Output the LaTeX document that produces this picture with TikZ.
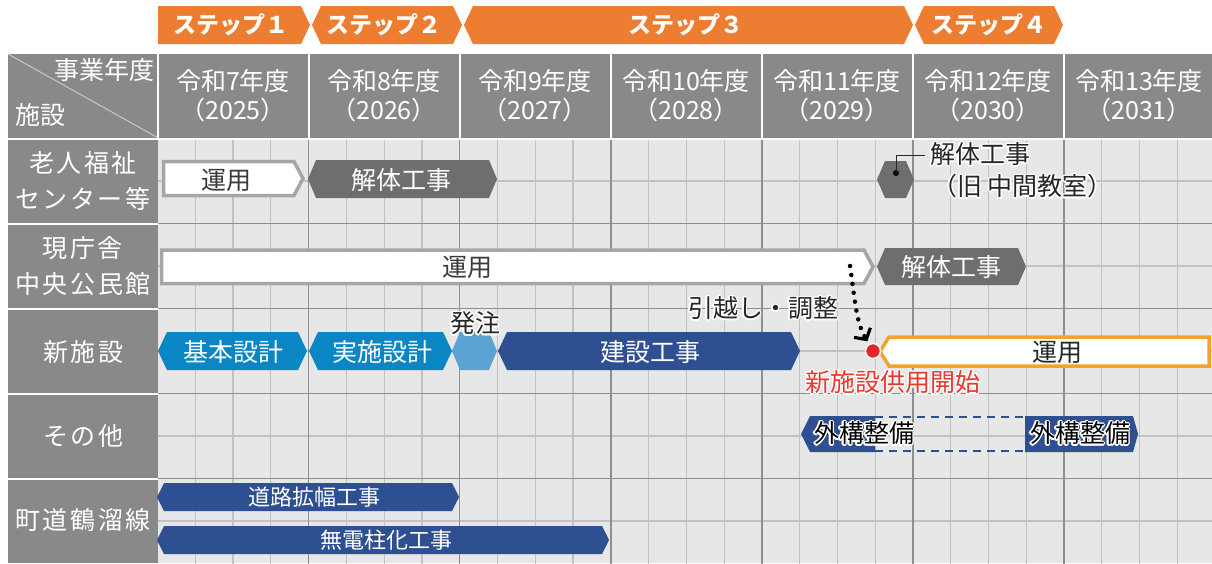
\documentclass[tikz,border=0pt]{standalone}
\usepackage{fontspec}
\setmainfont{Noto Sans CJK JP}
\usepackage{contour}
\contourlength{1.3pt}
\usetikzlibrary{arrows.meta}
\definecolor{steporange}{HTML}{ED7D31}
\definecolor{hdrgray}{HTML}{898989}
\definecolor{gridbg}{HTML}{E7E7E7}
\definecolor{gridlight}{HTML}{C2C2C2}
\definecolor{griddark}{HTML}{8F8F8F}
\definecolor{diagline}{HTML}{C8C8C8}
\definecolor{bardark}{HTML}{6E6E6E}
\definecolor{barborder}{HTML}{A6A6A6}
\definecolor{blueA}{HTML}{0A86C4}
\definecolor{blueL}{HTML}{5BA3D3}
\definecolor{blueD}{HTML}{2E5092}
\definecolor{opborder}{HTML}{F3A230}
\definecolor{redmark}{HTML}{E3262A}
\definecolor{redtext}{HTML}{E8392A}
\definecolor{txtdark}{HTML}{262626}
\definecolor{txtbar}{HTML}{3A3A3A}
% style, xL, xR, yTop, yBottom, tipLeft, tipRight
\newcommand{\barpath}[7]{%
  \path[#1] (#2,{(#4+#5)/2}) -- ({#2+#6},#4) -- ({#3-#7},#4) -- (#3,{(#4+#5)/2}) -- ({#3-#7},#5) -- ({#2+#6},#5) -- cycle;}
\tikzset{
  stepbox/.style={fill=steporange},
  steptxt/.style={text=white, font=\fontsize{23}{28}\selectfont\bfseries, inner sep=0},
  hdrtxt/.style={text=white, font=\fontsize{25}{29}\selectfont, align=center, inner sep=0},
  rowtxt/.style={text=white, font=\fontsize{25}{36}\selectfont\addfontfeatures{LetterSpace=10}, align=center, inner sep=0},
  darkbar/.style={fill=bardark},
  whitebar/.style={fill=white, draw=barborder, line width=3.5pt},
  orangebar/.style={fill=white, draw=opborder, line width=3.5pt},
  bluebar/.style={fill=blueA},
  lbluebar/.style={fill=blueL},
  dbluebar/.style={fill=blueD},
  bartxt/.style={font=\fontsize{25}{30}\selectfont, inner sep=0},
  smalltxt/.style={font=\fontsize{22}{26}\selectfont, inner sep=0, text=white},
  anntxt/.style={font=\fontsize{25}{30}\selectfont, inner sep=0, text=txtdark},
  thinline/.style={gridlight, line width=1.2pt},
  thickline/.style={griddark, line width=1.5pt}
}
\begin{document}
\begin{tikzpicture}[x=1pt,y=-1pt]
\useasboundingbox (0,0) rectangle (1212,563);
\fill[white] (0,0) rectangle (1212,563);

% ---- grid area ----
\fill[gridbg] (157.5,137.5) rectangle (1212,563);
\foreach \q in {1,...,27} {\draw[thinline] ({157.5+\q*37.775},137.5) -- ++(0,426);}
\foreach \yy in {181,266,351,436,521} {\draw[thinline] (157.5,\yy) -- (1212,\yy);}
\foreach \k in {1,...,6} {\draw[thickline] ({157.5+\k*151.1},137.5) -- ++(0,426);}
\foreach \yy in {223.5,308.5,393.5,478.5} {\draw[thickline] (157.5,\yy) -- (1212,\yy);}

% ---- header ----
\fill[hdrgray] (8,54) rectangle (1212,137.5);
\foreach \k in {0,...,6} {\draw[white, line width=2pt] ({157.5+\k*151.1},54) -- ({157.5+\k*151.1},137.5);}
\draw[diagline, line width=1pt] (8,54) -- (157.5,137.5);
\fill[hdrgray] (8,137.5) rectangle (157.5,563);
\draw[white, line width=2pt] (8,138.5) -- (1212,138.5);
\foreach \yy in {223.5,308.5,393.5,478.5} {\draw[white, line width=2pt] (8,\yy) -- (157.5,\yy);}

\node[hdrtxt, anchor=east] (hjigyo) at (155,70) {事業年度};
\node[hdrtxt, anchor=west] (hshisetsu) at (15,115) {施設};
\node[hdrtxt] (y2025) at (233,96) {令和7年度\\（2025）};
\node[hdrtxt] (y2026) at (384,96) {令和8年度\\（2026）};
\node[hdrtxt] (y2027) at (535,96) {令和9年度\\（2027）};
\node[hdrtxt] (y2028) at (686,96) {令和10年度\\（2028）};
\node[hdrtxt] (y2029) at (837,96) {令和11年度\\（2029）};
\node[hdrtxt] (y2030) at (988,96) {令和12年度\\（2030）};
\node[hdrtxt] (y2031) at (1139,96) {令和13年度\\（2031）};

\node[rowtxt] (r1) at (83,181) {老人福祉\\センター等};
\node[rowtxt] (r2) at (83,266) {現庁舎\\中央公民館};
\node[rowtxt] (r3) at (83,352) {新施設};
\node[rowtxt] (r4) at (83,436) {その他};
\node[rowtxt] (r5) at (83,520) {町道鶴溜線};

% ---- steps ----
\barpath{stepbox}{158}{310}{6}{44}{0}{9}
\barpath{stepbox}{312}{462}{6}{44}{9}{9}
\barpath{stepbox}{464}{913}{6}{44}{9}{9}
\barpath{stepbox}{915}{1063}{6}{44}{9}{9}
\node[steptxt] (s1) at (231,25) {ステップ１};
\node[steptxt] (s2) at (384,25) {ステップ２};
\node[steptxt] (s3) at (686,25) {ステップ３};
\node[steptxt] (s4) at (989,25) {ステップ４};

% ---- row 1 ----
\barpath{whitebar}{163.5}{303}{161.5}{195.5}{0}{9}
\node[bartxt, text=txtbar] (op1) at (226,180) {運用};
\barpath{darkbar}{308}{497}{160}{198}{8}{8}
\node[bartxt, text=white] (dem1) at (401,180) {解体工事};
\barpath{darkbar}{877}{914}{161}{198}{8}{8}
\node[circle, fill=black, inner sep=0, minimum size=6pt] (hexdot) at (896,173) {};
\node[anntxt, anchor=west] (lblA) at (930,155) {\contour{white}{解体工事}};
\node[anntxt, anchor=west] (lblB) at (932,187) {\contour{white}{（旧 中間教室）}};
\draw[txtdark, line width=0.8pt] (hexdot.center) |- ([xshift=-5pt]lblA.west);

% ---- row 2 ----
\barpath{whitebar}{161.5}{873}{250}{283.5}{0}{9}
\node[bartxt, text=txtbar] (op2) at (467,267) {運用};
\barpath{darkbar}{877}{1026}{248}{285}{8}{8}
\node[bartxt, text=white] (dem2) at (951,267) {解体工事};
\coordinate (mvstart) at (850,266);

% ---- row 3 ----
\barpath{bluebar}{158}{307}{332}{370}{9}{9}
\node[bartxt, text=white] (kihon) at (233,352) {基本設計};
\barpath{bluebar}{309}{452}{332}{370}{9}{9}
\node[bartxt, text=white] (jisshi) at (382,352) {実施設計};
\barpath{lbluebar}{452}{497}{332}{370}{8}{8}
\node[anntxt] (hatchu) at (475,324) {\contour{white}{発注}};
\barpath{dbluebar}{498}{800}{332}{370}{9}{9}
\node[bartxt, text=white] (kensetsu) at (650,352) {建設工事};
\barpath{orangebar}{880}{1209}{337}{366}{9}{0}
\node[bartxt, text=txtdark] (op3) at (1057,352) {運用};
\node[circle, fill=redmark, draw=white, line width=1.5pt, minimum size=15pt, inner sep=0] (dot) at (873,351) {};
\node[anntxt, text=redtext] (kyoyo) at (893,383) {\contour{white}{新施設供用開始}};
\node[anntxt] (hikkoshi) at (763,309) {\contour{white}{引越し・調整}};
\draw[black, line width=4.5pt, dash pattern=on 0pt off 9pt, line cap=round,
      -{Straight Barb[length=8pt,width=19pt,line width=3.2pt]}, shorten >=3pt]
      (mvstart) .. controls (855,300) and (856,322) .. (dot);

% ---- row 4 ----
\draw[blueD, line width=2pt, dash pattern=on 8pt off 6pt] (875,417) -- (1025,417);
\draw[blueD, line width=2pt, dash pattern=on 8pt off 6pt] (875,451) -- (1025,451);
\barpath{dbluebar}{801}{875}{416}{452}{9}{0}
\barpath{dbluebar}{1025}{1138}{416}{452}{0}{5}
\node[anntxt, text=black] (gaiko1) at (864,434) {\contour{white}{外構整備}};
\node[anntxt, text=black] (gaiko2) at (1080,434) {\contour{white}{外構整備}};

% ---- row 5 ----
\barpath{dbluebar}{157}{459}{483}{511}{7}{7}
\node[smalltxt] (doro) at (314,497) {道路拡幅工事};
\barpath{dbluebar}{157}{609}{526}{554}{7}{7}
\node[smalltxt] (mudenchu) at (386,540) {無電柱化工事};
\end{tikzpicture}
\end{document}
